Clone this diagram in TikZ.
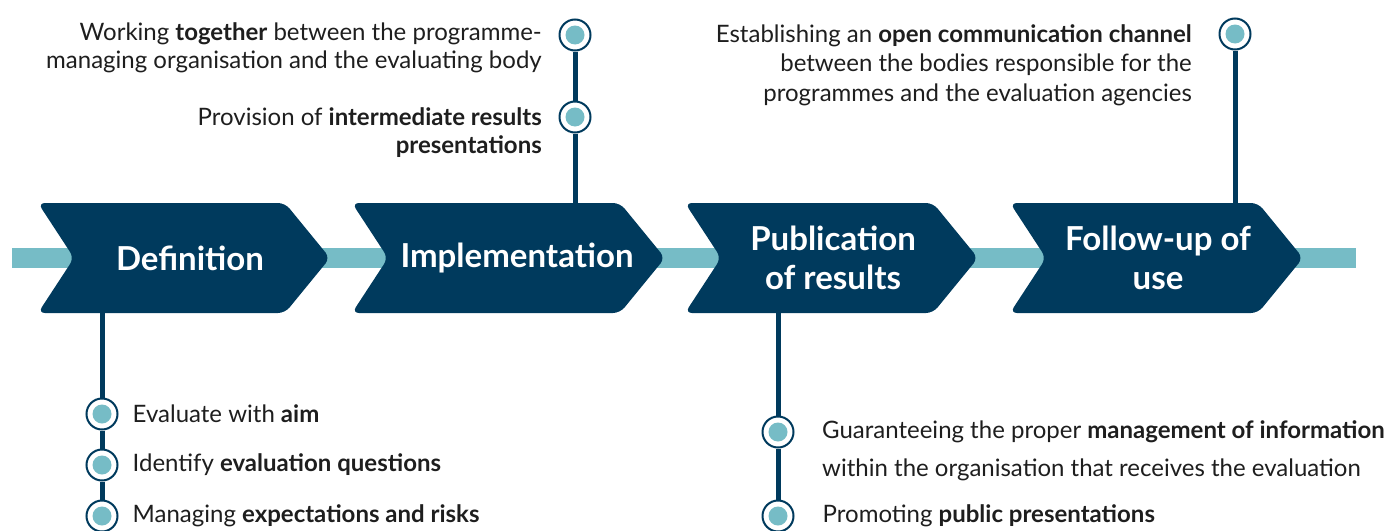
\documentclass[tikz,border=0pt]{standalone}
\usepackage{fontspec}
\setmainfont{Lato}
\usetikzlibrary{positioning}
\definecolor{navy}{HTML}{003A5D}
\definecolor{aqua}{HTML}{76BCC6}
\definecolor{ink}{HTML}{1E1E1E}
\tikzset{
  stem/.style={navy, line width=5pt},
  dot/.style={circle, draw=navy, line width=2pt, fill=white, minimum size=31pt, inner sep=0pt,
    path picture={\fill[aqua] (path picture bounding box.center) circle (9.5pt);}},
  note/.style={text=ink, font=\fontsize{24}{28}\selectfont, inner sep=0pt},
  stage/.style={text=white, font=\fontsize{33}{39}\selectfont\bfseries, align=center, inner sep=0pt, minimum height=110pt},
}
\newcommand{\chevron}[2]{\fill[navy, rounded corners=7pt] (#1,203) -- (#2-45,203) -- (#2,258) -- (#2-45,313) -- (#1,313) -- (#1+36,258) -- cycle;}
\begin{document}
\begin{tikzpicture}[x=1pt, y=-1pt]
\useasboundingbox (0,0) rectangle (1394,530);
\fill[aqua] (12,248) rectangle (1356,268);
\chevron{38}{330}
\chevron{352}{665}
\chevron{685}{978}
\chevron{1010}{1303}

\node[stage] (def) at (190,258) {Definition};
\node[stage] (imp) at (517,258) {Implementation};
\node[stage] (pub) at (833,258) {Publication\\of results};
\node[stage] (fol) at (1158,258) {Follow-up of\\use};

\node[dot] (a1) at (102,414) {};
\node[dot] (a2) at (102,465) {};
\node[dot] (a3) at (102,516) {};
\node[dot] (b1) at (575,35) {};
\node[dot] (b2) at (575,117) {};
\node[dot] (c1) at (778,432) {};
\node[dot] (c2) at (778,516) {};
\node[dot] (d1) at (1235,34) {};

\draw[stem] (a1 |- def.south) -- (a1);
\draw[stem] (a1) -- (a2);
\draw[stem] (a2) -- (a3);
\draw[stem] (b1) -- (b2);
\draw[stem] (b2) -- (b2 |- imp.north);
\draw[stem] (c1 |- pub.south) -- (c1);
\draw[stem] (c1) -- (c2);
\draw[stem] (d1) -- (d1 |- fol.north);

\node[note, right=14pt of a1] (ta1) {Evaluate with \textbf{aim}};
\node[note, right=14pt of a2] (ta2) {Identify \textbf{evaluation questions}};
\node[note, right=14pt of a3] (ta3) {Managing \textbf{expectations and risks}};
\node[note, anchor=north east, align=right] (tb1) at (542,22) {Working \textbf{together} between the programme-\\managing organisation and the evaluating body};
\node[note, anchor=north east, align=right] (tb2) at (542,107) {Provision of \textbf{intermediate results}\\\textbf{presentations}};
\node[note, anchor=north west, align=left, font=\fontsize{24}{38}\selectfont] (tc1) at (822,420) {Guaranteeing the proper \textbf{management of information}\\within the organisation that receives the evaluation};
\node[note, right=28pt of c2] (tc2) {Promoting \textbf{public presentations}};
\node[note, anchor=north east, align=right, font=\fontsize{24}{29.5}\selectfont] (td1) at (1192,24) {Establishing an \textbf{open communication channel}\\between the bodies responsible for the\\programmes and the evaluation agencies};
\end{tikzpicture}
\end{document}
